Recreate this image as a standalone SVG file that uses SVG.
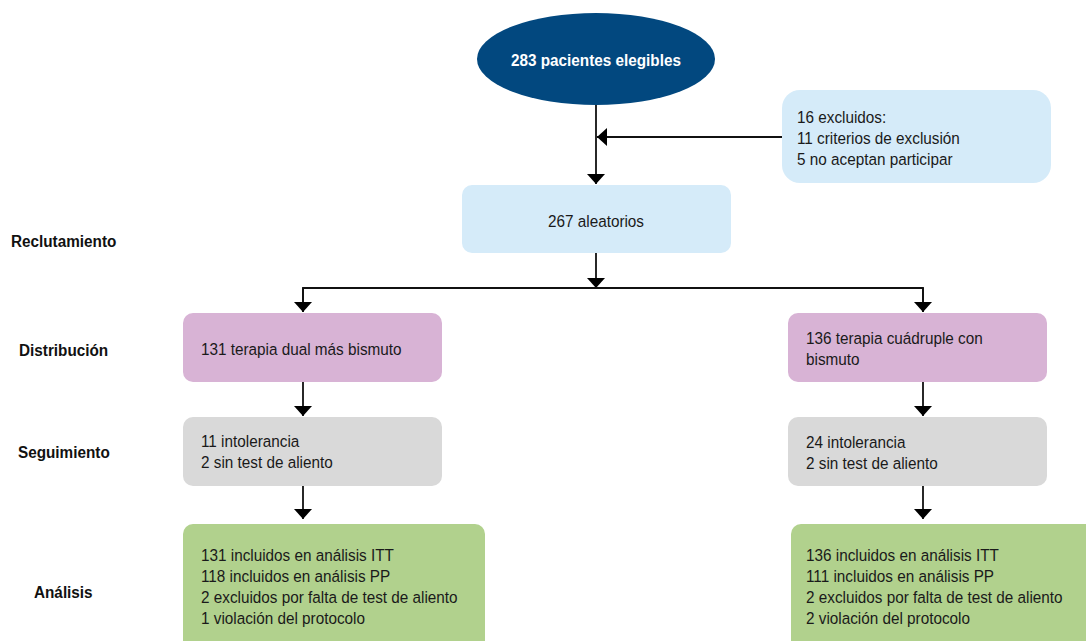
<svg xmlns="http://www.w3.org/2000/svg" width="1086" height="641" viewBox="0 0 1086 641">
<style>
text{font-family:"Liberation Sans",Arial,sans-serif;font-size:17px;fill:#1a1a1a}
.b{font-weight:bold;fill:#111}
.w{font-weight:bold;fill:#ffffff}
.m{text-anchor:middle}
.ln{stroke:#111;stroke-width:1.8;fill:none}
.blue{fill:#D5EBF9}
.mag{fill:#D8B3D5}
.gray{fill:#D9D9D9}
.green{fill:#B1D18D}
</style>
<defs>
<marker id="ah" markerUnits="userSpaceOnUse" viewBox="0 -9 10 18" refX="10" refY="0" markerWidth="10" markerHeight="18" orient="auto">
<path d="M0,-9 L10,0 L0,9 z" fill="#000"/>
</marker>
</defs>
<rect width="1086" height="641" fill="#fff"/>

<g id="labels">
<text class="b" transform="translate(11 247) scale(0.9 1)">Reclutamiento</text>
<text class="b" transform="translate(19 356) scale(0.9 1)">Distribución</text>
<text class="b" transform="translate(18 458) scale(0.9 1)">Seguimiento</text>
<text class="b" transform="translate(34 598) scale(0.9 1)">Análisis</text>
</g>

<g id="connectors">
<line class="ln" x1="596" y1="105" x2="596" y2="184" marker-end="url(#ah)"/>
<line class="ln" x1="782" y1="137" x2="597" y2="137" marker-end="url(#ah)"/>
<line class="ln" x1="596" y1="253" x2="596" y2="288" marker-end="url(#ah)"/>
<polyline class="ln" points="303,312 303,288 923,288 923,312" stroke="#333" marker-end="none"/>
<line class="ln" x1="303" y1="288" x2="303" y2="312" marker-end="url(#ah)"/>
<line class="ln" x1="923" y1="288" x2="923" y2="312" marker-end="url(#ah)"/>
<line class="ln" x1="303" y1="382" x2="303" y2="416" marker-end="url(#ah)"/>
<line class="ln" x1="923" y1="382" x2="923" y2="416" marker-end="url(#ah)"/>
<line class="ln" x1="303" y1="486" x2="303" y2="519" marker-end="url(#ah)"/>
<line class="ln" x1="923" y1="486" x2="923" y2="519" marker-end="url(#ah)"/>
</g>

<g id="n-elegibles">
<ellipse cx="596" cy="59" rx="119" ry="46" fill="#02487F"/>
<text class="w m" transform="translate(596 66) scale(0.9 1)">283 pacientes elegibles</text>
</g>

<g id="n-excluidos">
<rect class="blue" x="782" y="90" width="269" height="93" rx="18"/>
<text transform="translate(797 123) scale(0.9 1)">16 excluidos:</text>
<text transform="translate(797 144) scale(0.9 1)">11 criterios de exclusión</text>
<text transform="translate(797 165) scale(0.9 1)">5 no aceptan participar</text>
</g>

<g id="n-aleatorios">
<rect class="blue" x="462" y="185" width="269" height="68" rx="10"/>
<text class="m" transform="translate(596 227) scale(0.9 1)">267 aleatorios</text>
</g>

<g id="n-dual">
<rect class="mag" x="183" y="313" width="259" height="69" rx="10"/>
<text transform="translate(201 355) scale(0.9 1)">131 terapia dual más bismuto</text>
</g>

<g id="n-cuadruple">
<rect class="mag" x="788" y="313" width="259" height="69" rx="10"/>
<text transform="translate(806 344) scale(0.9 1)">136 terapia cuádruple con</text>
<text transform="translate(806 365) scale(0.9 1)">bismuto</text>
</g>

<g id="n-seg-izq">
<rect class="gray" x="183" y="417" width="259" height="69" rx="10"/>
<text transform="translate(201 447) scale(0.9 1)">11 intolerancia</text>
<text transform="translate(201 468) scale(0.9 1)">2 sin test de aliento</text>
</g>

<g id="n-seg-der">
<rect class="gray" x="788" y="417" width="259" height="69" rx="10"/>
<text transform="translate(806 448) scale(0.9 1)">24 intolerancia</text>
<text transform="translate(806 469) scale(0.9 1)">2 sin test de aliento</text>
</g>

<g id="n-analisis-izq">
<rect class="green" x="183" y="524" width="302" height="130" rx="10"/>
<text transform="translate(201 561) scale(0.9 1)">131 incluidos en análisis ITT</text>
<text transform="translate(201 582) scale(0.9 1)">118 incluidos en análisis PP</text>
<text transform="translate(201 603) scale(0.9 1)">2 excluidos por falta de test de aliento</text>
<text transform="translate(201 624) scale(0.9 1)">1 violación del protocolo</text>
</g>

<g id="n-analisis-der">
<rect class="green" x="791" y="524" width="310" height="130" rx="10"/>
<text transform="translate(806 561) scale(0.9 1)">136 incluidos en análisis ITT</text>
<text transform="translate(806 582) scale(0.9 1)">111 incluidos en análisis PP</text>
<text transform="translate(806 603) scale(0.9 1)">2 excluidos por falta de test de aliento</text>
<text transform="translate(806 624) scale(0.9 1)">2 violación del protocolo</text>
</g>
</svg>
